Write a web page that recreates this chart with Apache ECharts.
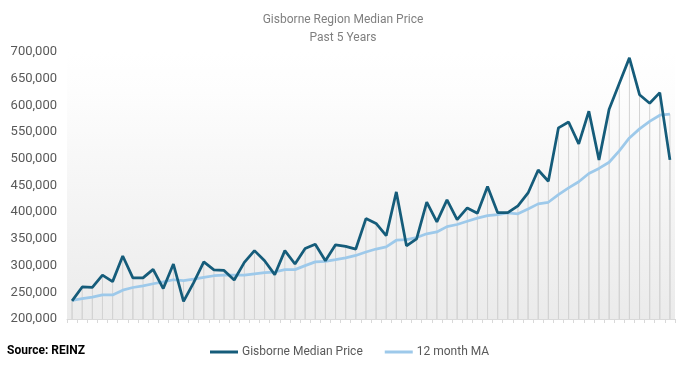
<!DOCTYPE html>
<html>
<head>
<meta charset="utf-8">
<script src="https://cdn.jsdelivr.net/npm/echarts@6/dist/echarts.min.js"></script>
<style>
  html, body { margin: 0; padding: 0; background: #ffffff; }
  #chart { width: 686px; height: 365px; }
</style>
</head>
<body>
<div id="chart"></div>
<script>
// 60 monthly observations (last 5 years)
const months = Array.from({ length: 60 }, (_, i) => 'M' + (i + 1));

const medianPrice = [
  234000, 260000, 259000, 282000, 270000, 318000, 277000, 277000, 293000, 257000,
  303000, 233000, 268000, 307000, 292000, 291000, 273000, 306000, 328000, 309000,
  283000, 328000, 303000, 332000, 340000, 309000, 339000, 336000, 331000, 388000,
  379000, 356000, 438000, 337000, 350000, 419000, 382000, 423000, 386000, 408000,
  398000, 448000, 399000, 399000, 412000, 436000, 479000, 458000, 558000, 569000,
  528000, 589000, 498000, 593000, 641000, 689000, 620000, 604000, 624000, 498000
];

const movingAvg = [
  235000, 238000, 241000, 245000, 245000, 254000, 259000, 262000, 266000, 269500,
  273500, 272000, 274500, 278000, 281000, 282000, 282000, 282000, 284500, 287000,
  288000, 292500, 292500, 300000, 307000, 308000, 311000, 314500, 319000, 325500,
  331000, 335000, 347500, 348500, 352500, 359500, 363000, 373000, 377000, 383000,
  389000, 393600, 395500, 398500, 397000, 406000, 415600, 418600, 433000, 445500,
  457000, 472500, 482000, 493500, 515000, 539000, 556000, 570000, 581600, 583500
];

const yMin = 200000;
const yMax = 700000;
const yStep = 50000;

const chart = echarts.init(document.getElementById('chart'), null, { renderer: 'canvas' });

chart.setOption({
  animation: false,
  backgroundColor: '#ffffff',
  textStyle: { fontFamily: 'Roboto' },
  title: {
    text: 'Gisborne Region Median Price\nPast 5 Years',
    left: 'center',
    top: 6,
    textStyle: {
      fontFamily: 'Roboto',
      fontSize: 12,
      fontWeight: 'normal',
      color: '#7f7f7f',
      lineHeight: 18
    }
  },
  grid: {
    left: 67,
    right: 11,
    top: 52,
    bottom: 46,
    show: true,
    borderWidth: 0,
    backgroundColor: new echarts.graphic.LinearGradient(0, 0, 0, 1, [
      { offset: 0, color: '#ffffff' },
      { offset: 0.15, color: '#fdfdfd' },
      { offset: 1, color: '#ebebeb' }
    ])
  },
  legend: {
    left: 205,
    top: 341,
    itemGap: 22,
    itemWidth: 28,
    itemHeight: 3,
    icon: 'rect',
    textStyle: { fontFamily: 'Roboto', fontSize: 12, color: '#595959', padding: [0, 0, 0, -1] },
    data: ['Gisborne Median Price', '12 month MA']
  },
  graphic: [
    {
      type: 'text',
      left: 7,
      top: 345,
      style: {
        text: 'Source: REINZ',
        font: 'bold 12px Roboto',
        fill: '#000000'
      }
    }
  ],
  xAxis: {
    type: 'category',
    data: months,
    boundaryGap: true,
    axisLine: { show: true, lineStyle: { color: '#d9d9d9', width: 1 } },
    axisTick: { show: true, interval: 0, length: 4, lineStyle: { color: '#d9d9d9' } },
    axisLabel: { show: false },
    splitLine: { show: false }
  },
  yAxis: {
    type: 'value',
    min: yMin,
    max: yMax,
    interval: yStep,
    axisLine: { show: false },
    axisTick: { show: false },
    splitLine: { show: false },
    axisLabel: {
      margin: 10,
      fontFamily: 'Roboto',
      fontSize: 13,
      color: '#595959',
      formatter: v => v.toLocaleString('en-US')
    }
  },
  series: [
    {
      name: 'dropMedian',
      type: 'bar',
      data: medianPrice,
      barWidth: 1,
      barGap: '-100%',
      itemStyle: { color: '#d3d3d3' },
      silent: true,
      z: 1,
      legendHoverLink: false
    },
    {
      name: 'dropMA',
      type: 'bar',
      data: movingAvg,
      barWidth: 1,
      barGap: '-100%',
      itemStyle: { color: '#d3d3d3' },
      silent: true,
      z: 1,
      legendHoverLink: false
    },
    {
      name: '12 month MA',
      type: 'line',
      data: movingAvg,
      symbol: 'none',
      lineStyle: { color: '#9dc9ea', width: 2.75 },
      itemStyle: { color: '#9dc9ea' },
      z: 3
    },
    {
      name: 'Gisborne Median Price',
      type: 'line',
      data: medianPrice,
      symbol: 'none',
      lineStyle: { color: '#155c7a', width: 2.75 },
      itemStyle: { color: '#155c7a' },
      z: 4
    }
  ]
});
</script>
</body>
</html>
